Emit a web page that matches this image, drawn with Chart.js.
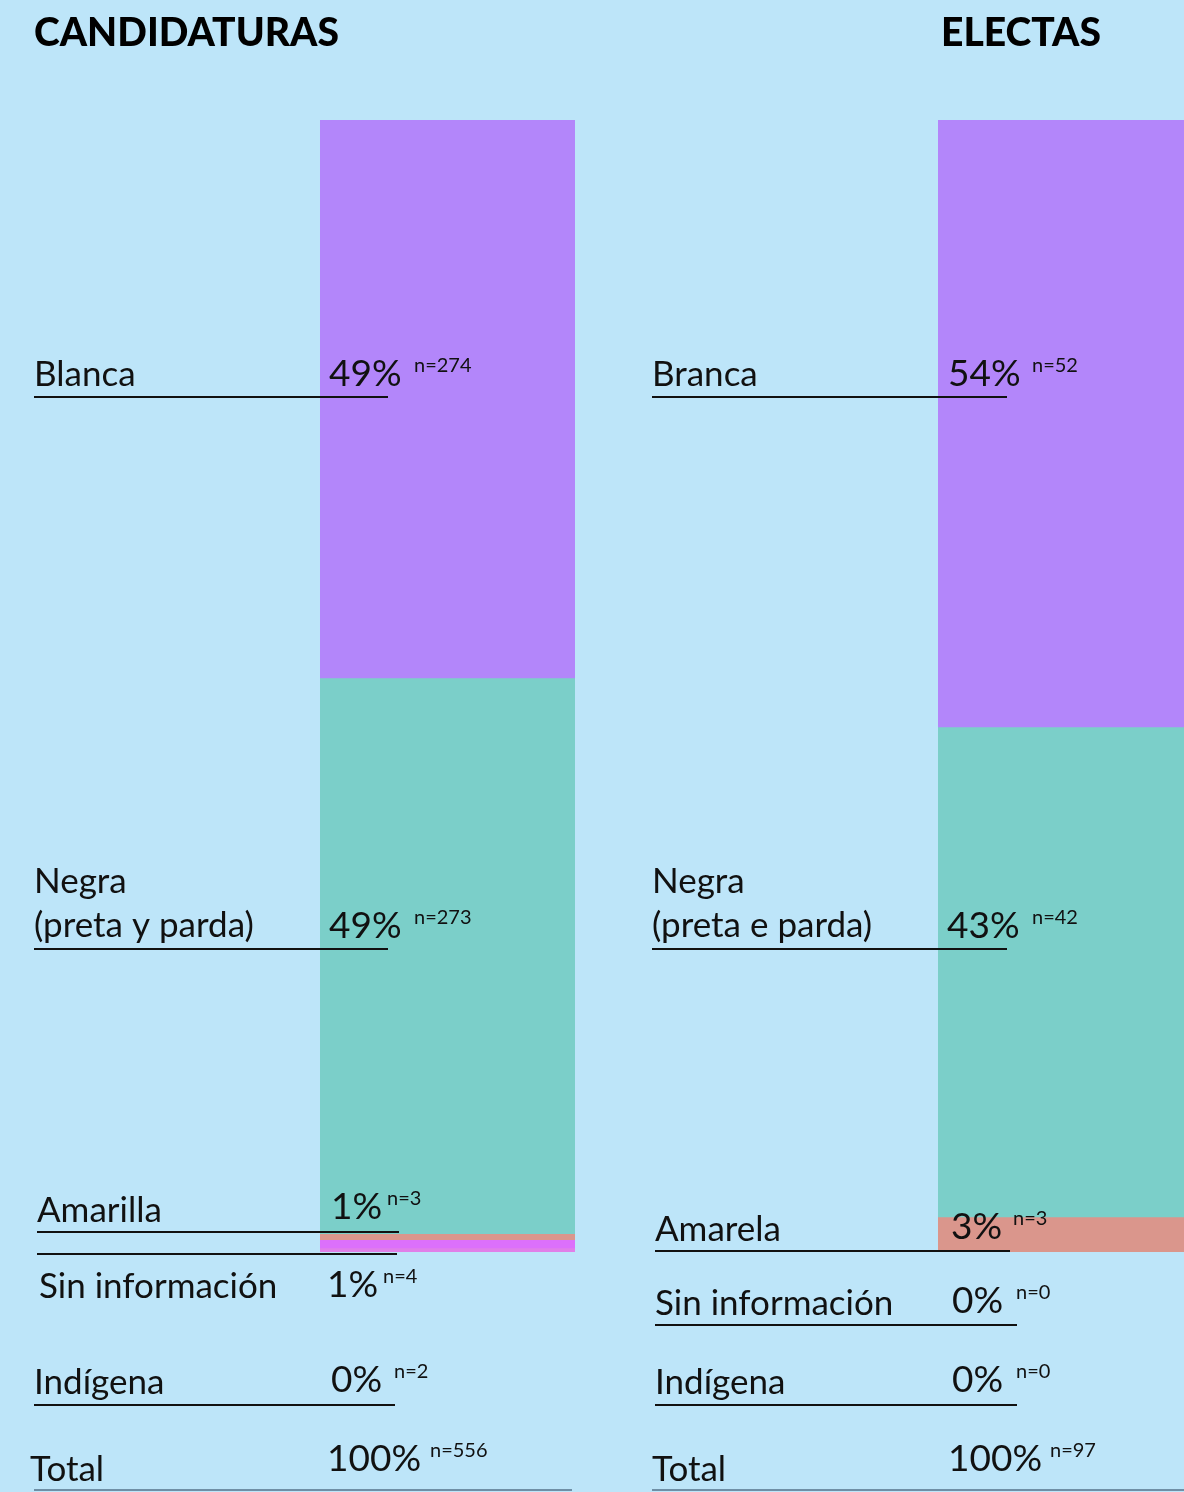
<!DOCTYPE html>
<html>
<head>
<meta charset="utf-8">
<script src="https://cdn.jsdelivr.net/npm/chart.js@4/dist/chart.umd.min.js"></script>
<style>
html, body { margin: 0; padding: 0; background: #bde5f9; overflow: hidden; }
#wrap { position: relative; width: 1184px; height: 1492px; }
canvas { position: absolute; left: 0; top: 0; }
</style>
</head>
<body>
<div id="wrap">
    <canvas id="cand" width="1184" height="1492"></canvas>
    <canvas id="elec" width="1184" height="1492"></canvas>
</div>
<script>
// --- data ---
const candTitle = 'CANDIDATURAS';
const candLabels = [['Blanca'], ['Negra', '(preta y parda)'], ['Amarilla'], ['Sin información'], ['Indígena']];
const candCounts = [274, 273, 3, 4, 2];
const candPct = [49, 49, 1, 1, 0];
const candTotal = 556;

const elecTitle = 'ELECTAS';
const elecLabels = [['Branca'], ['Negra', '(preta e parda)'], ['Amarela'], ['Sin información'], ['Indígena']];
const elecCounts = [52, 42, 3, 0, 0];
const elecPct = [54, 43, 3, 0, 0];
const elecTotal = 97;

const segColors = ['#b386fa', '#7bcfc9', '#da968c', '#dc70fb', '#e07fe8'];

// --- layout (pixel positions of the annotation rows) ---
const FONT = 'Lato, "Open Sans", "DejaVu Sans", sans-serif';

const candLayout = {
    titleX: 34, barLeft: 320, barRight: 575,
    rows: [
        {line: 397, x0: 34, x1: 388, lx: 34, lb: [386], px: 329, pb: 386, nx: 414},
        {line: 949, x0: 34, x1: 388, lx: 34, lb: [893, 937], px: 329, pb: 938, nx: 414},
        {line: 1232, x0: 37, x1: 399, lx: 37, lb: [1222], px: 331, pb: 1219, nx: 387},
        {line: 1254, x0: 37, x1: 397, lx: 39, lb: [1298], px: 327, pb: 1297, nx: 383},
        {line: 1405, x0: 34, x1: 395, lx: 34, lb: [1394], px: 331, pb: 1392, nx: 394}
    ],
    total: {line: 1490, x0: 34, x1: 572, lx: 30, lb: [1481], px: 327, pb: 1471, nx: 430}
};

const elecLayout = {
    titleX: 941, barLeft: 938, barRight: 1184,
    rows: [
        {line: 397, x0: 652, x1: 1007, lx: 652, lb: [386], px: 948, pb: 386, nx: 1032},
        {line: 949, x0: 652, x1: 1007, lx: 652, lb: [893, 937], px: 947, pb: 938, nx: 1032},
        {line: 1251, x0: 655, x1: 1010, lx: 655, lb: [1241], px: 951, pb: 1239, nx: 1013},
        {line: 1325, x0: 655, x1: 1017, lx: 655, lb: [1315], px: 952, pb: 1313, nx: 1016},
        {line: 1405, x0: 655, x1: 1017, lx: 655, lb: [1394], px: 952, pb: 1392, nx: 1016}
    ],
    total: {line: 1490, x0: 652, x1: 1184, lx: 652, lb: [1481], px: 948, pb: 1471, nx: 1050}
};

function annotate(title, labels, counts, pct, total, layout){
    return {
        id: 'annotate',
        afterDraw(chart){
            const ctx = chart.ctx;
            ctx.save();
            ctx.fillStyle = '#000';
            ctx.textBaseline = 'alphabetic';
            ctx.textAlign = 'left';
            ctx.font = '900 39px ' + FONT;
            ctx.fillText(title, layout.titleX, 46);

            var drawRow = function(r, lines, p, n, lineColor){
                ctx.font = '400 35px ' + FONT;
                ctx.fillStyle = '#111';
                lines.forEach((t, i) => ctx.fillText(t, r.lx, r.lb[i]));
                ctx.font = '400 37px ' + FONT;
                ctx.fillText(p + '%', r.px, r.pb);
                ctx.font = '400 20px ' + FONT;
                ctx.fillText('n=' + n, r.nx, r.pb - 14);
                ctx.strokeStyle = lineColor;
                ctx.lineWidth = 2;
                ctx.beginPath();
                ctx.moveTo(r.x0, r.line);
                ctx.lineTo(r.x1, r.line);
                ctx.stroke();
            };
            layout.rows.forEach((r, i) => drawRow(r, labels[i], pct[i], counts[i], '#111'));
            drawRow(layout.total, ['Total'], 100, total, '#6f8fa6');
            ctx.restore();
        }
    };
}

function makeChart(id, title, labels, counts, pct, total, layout){
    var datasets = [];
    counts.forEach((c, i) => {
        datasets.push({
            label: labels[i].join(' '),
            data: [c],
            backgroundColor: segColors[i],
            borderWidth: 0,
            barPercentage: 1,
            categoryPercentage: 1
        });
    });
    return new Chart(document.getElementById(id).getContext('2d'), {
        type: 'bar',
        data: { labels: [title], datasets: datasets },
        options: {
            responsive: false,
            animation: false,
            layout: {
                padding: { left: layout.barLeft, right: 1184 - layout.barRight, top: 120, bottom: 240 }
            },
            plugins: { legend: { display: false }, tooltip: { enabled: false } },
            scales: {
                x: { stacked: true, display: false },
                y: { stacked: true, display: false, reverse: true, min: 0, max: total }
            }
        },
        plugins: [annotate(title, labels, counts, pct, total, layout)]
    });
}

makeChart('cand', candTitle, candLabels, candCounts, candPct, candTotal, candLayout);
makeChart('elec', elecTitle, elecLabels, elecCounts, elecPct, elecTotal, elecLayout);
</script>
</body>
</html>
